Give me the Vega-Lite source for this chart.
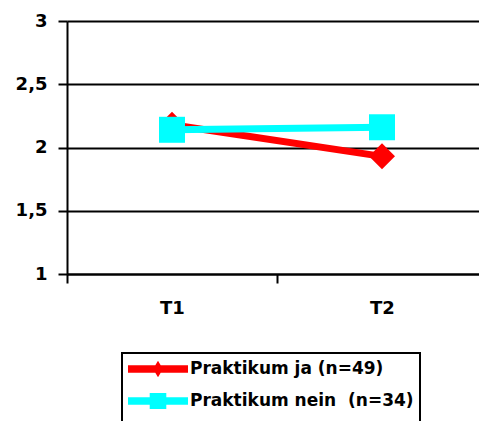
{
  "$schema": "https://vega.github.io/schema/vega-lite/v6.json",
  "autosize": {"type": "none"},
  "padding": {"left": 67, "top": 21, "right": 0, "bottom": 147},
  "width": 412,
  "height": 253,
  "background": "white",
  "config": {"view": {"stroke": null}, "font": "DejaVu Sans"},
  "data": {
    "values": [
      {"group": "Praktikum ja (n=49)", "time": "T1", "value": 2.18},
      {"group": "Praktikum ja (n=49)", "time": "T2", "value": 1.93},
      {"group": "Praktikum nein \u00a0(n=34)", "time": "T1", "value": 2.14},
      {"group": "Praktikum nein \u00a0(n=34)", "time": "T2", "value": 2.16}
    ]
  },
  "encoding": {
    "x": {
      "field": "time", "type": "nominal",
      "scale": {"type": "band", "range": [0, 420], "paddingInner": 0, "paddingOuter": 0},
      "axis": {
        "title": null, "labelAngle": 0, "grid": false,
        "labelFont": "DejaVu Sans", "labelFontSize": 18, "labelFontWeight": "bold", "labelColor": "black",
        "labelPadding": 16, "tickBand": "extent", "tickSize": 9, "tickWidth": 2, "tickColor": "black",
        "domainColor": "black", "domainWidth": 2
      }
    },
    "y": {
      "field": "value", "type": "quantitative",
      "scale": {"domain": [1, 3]},
      "axis": {
        "title": null, "values": [1, 1.5, 2, 2.5, 3],
        "labelExpr": "replace(format(datum.value, '.1~f'), '.', ',')",
        "labelFont": "DejaVu Sans", "labelFontSize": 18, "labelFontWeight": "bold", "labelColor": "black",
        "labelPadding": 11, "tickSize": 9, "tickWidth": 2, "tickColor": "black",
        "domainColor": "black", "domainWidth": 2,
        "grid": true, "gridColor": "black", "gridWidth": 2, "gridOpacity": 1
      }
    },
    "color": {
      "field": "group", "type": "nominal",
      "scale": {"domain": ["Praktikum ja (n=49)", "Praktikum nein \u00a0(n=34)"], "range": ["#ff0000", "#00ffff"]},
      "legend": {
        "orient": "none", "legendX": 55, "legendY": 332,
        "padding": 6, "rowPadding": 13, "symbolSize": 400,
        "strokeColor": "black", "fillColor": "white",
        "title": "\u00a0", "titleOrient": "bottom", "titleFontSize": 12, "titlePadding": 6,
        "labelFont": "DejaVu Sans", "labelFontSize": 17, "labelFontWeight": "bold", "labelColor": "black",
        "labelOffset": 42, "labelLimit": 400,
        "encode": {
          "legend": {"update": {"strokeWidth": {"value": 2}}},
          "symbols": {
            "update": {
              "shape": {"signal": "datum.index == 0 ? 'M-1,-0.38H1.73L2,-0.83L2.27,-0.38H5V0.38H2.27L2,0.83L1.73,0.38H-1Z' : 'M-1,-0.38H1.17V-0.8H2.83V-0.38H5V0.38H2.83V0.8H1.17V0.38H-1Z'"},
              "size": {"value": 400},
              "fill": {"scale": "color", "field": "value"},
              "fillOpacity": {"value": 1},
              "opacity": {"value": 1},
              "stroke": {"value": "transparent"},
              "strokeWidth": {"value": 0}
            }
          }
        }
      }
    }
  },
  "layer": [
    {
      "mark": {"type": "line", "strokeWidth": 7}
    },
    {
      "transform": [{"filter": "datum.group == 'Praktikum ja (n=49)'"}],
      "mark": {"type": "point", "filled": true, "size": 676, "opacity": 1, "shape": "diamond"}
    },
    {
      "transform": [{"filter": "datum.group != 'Praktikum ja (n=49)'"}],
      "mark": {"type": "point", "filled": true, "size": 676, "opacity": 1, "shape": "square"}
    }
  ]
}
